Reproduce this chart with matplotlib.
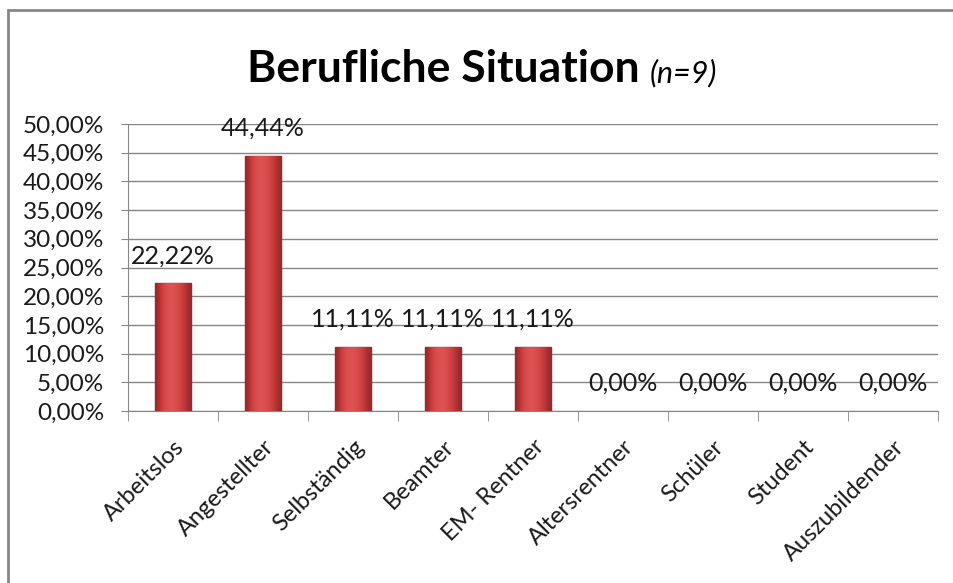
import matplotlib.pyplot as plt
import numpy as np
from matplotlib.patches import Rectangle

categories = ['Arbeitslos', 'Angestellter', 'Selbständig', 'Beamter', 'EM- Rentner',
              'Altersrentner', 'Schüler', 'Student', 'Auszubildender']
shares = [22.22, 44.44, 11.11, 11.11, 11.11, 0.0, 0.0, 0.0, 0.0]
y_ticks = np.arange(0, 55, 5)

plt.rcParams['font.family'] = ['Lato', 'DejaVu Sans']

fig = plt.figure(figsize=(9.54, 5.83), dpi=100)
ax = fig.add_axes([128 / 954, 1 - 411 / 583, (938 - 128) / 954, (411 - 124) / 583])

# outer chart frame (cut off at right and bottom like the reference)
fig.patches.append(Rectangle((8 / 954, -0.1), 1.2, 1 - 10 / 583 + 0.1,
                             transform=fig.transFigure, fill=False,
                             edgecolor='#868686', linewidth=2))

x = np.arange(len(categories))
bars = ax.bar(x, shares, width=0.41, color='#C63A3C', edgecolor='#8E2326',
              linewidth=1.0, zorder=3)

# horizontal shading to mimic the bevelled bars
grad = np.array([[0.55, 0.8, 0.95, 1.0, 0.95, 0.85, 0.7, 0.55]])
cmap = plt.matplotlib.colors.LinearSegmentedColormap.from_list(
    'red', ['#8E2326', '#C63A3C', '#E05354'])
for b in bars:
    if b.get_height() <= 0:
        b.set_visible(False)
        continue
    im = ax.imshow(grad, cmap=cmap, vmin=0.5, vmax=1.0, aspect='auto',
                   extent=(b.get_x(), b.get_x() + b.get_width(), 0, b.get_height()),
                   zorder=3.5, interpolation='bicubic')
    im.set_clip_path(b)

for xi, v in zip(x, shares):
    ax.annotate(f'{v:.2f}%'.replace('.', ','), (xi, v), xytext=(0, 20),
                textcoords='offset points', ha='center', va='center',
                fontsize=18, color='#1a1a1a', zorder=5)

ax.set_xlim(-0.5, len(categories) - 0.5)
ax.set_ylim(0, 50)
ax.set_yticks(y_ticks)
ax.set_yticklabels([f'{t:.2f}%'.replace('.', ',') for t in y_ticks], fontsize=17.5,
                   color='#1a1a1a')
ax.set_xticks(x)
ax.set_xticklabels(categories, rotation=45, ha='right', va='top',
                   rotation_mode='anchor', fontsize=17, color='#1a1a1a')
ax.tick_params(axis='x', length=0, pad=18)
ax.set_xticks(np.arange(-0.5, len(categories)), minor=True)
ax.tick_params(axis='x', which='minor', length=7, color='#868686')
ax.tick_params(axis='y', length=5, color='#868686', pad=12)

ax.grid(axis='y', color='#868686', linewidth=1, zorder=0)
ax.set_axisbelow(True)
for s in ['top', 'right']:
    ax.spines[s].set_visible(False)
for s in ['left', 'bottom']:
    ax.spines[s].set_color('#868686')

fig.text(640 / 954, 1 - 82 / 583, 'Berufliche Situation', ha='right', va='baseline',
         fontsize=32, fontweight='bold', color='black')
fig.text(650 / 954, 1 - 82 / 583, '(n=9)', ha='left', va='baseline',
         fontsize=22, style='italic', color='black')

fig.savefig('out.png', dpi=100, facecolor='white')
